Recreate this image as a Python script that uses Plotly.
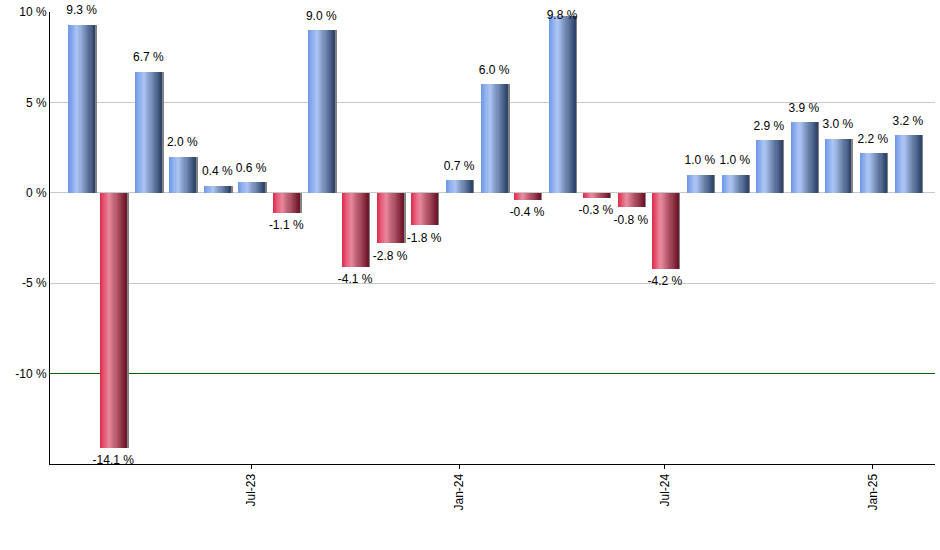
import plotly.graph_objects as go

# monthly returns, Feb-23 .. Feb-25
months = ["2023-02-01", "2023-03-01", "2023-04-01", "2023-05-01", "2023-06-01",
          "2023-07-01", "2023-08-01", "2023-09-01", "2023-10-01", "2023-11-01",
          "2023-12-01", "2024-01-01", "2024-02-01", "2024-03-01", "2024-04-01",
          "2024-05-01", "2024-06-01", "2024-07-01", "2024-08-01", "2024-09-01",
          "2024-10-01", "2024-11-01", "2024-12-01", "2025-01-01", "2025-02-01"]
returns = [9.3, -14.1, 6.7, 2.0, 0.4, 0.6, -1.1, 9.0, -4.1, -2.8, -1.8, 0.7, 6.0,
           -0.4, 9.8, -0.3, -0.8, -4.2, 1.0, 1.0, 2.9, 3.9, 3.0, 2.2, 3.2]

tick_dates = ["2023-07-01", "2024-01-01", "2024-07-01", "2025-01-01"]
tick_labels = ["Jul-23", "Jan-24", "Jul-24", "Jan-25"]
y_ticks = [-10, -5, 0, 5, 10]
y_labels = ["-10 %", "-5 %", "0 %", "5 %", "10 %"]
y_max, y_min = 10, -15

DAY = 86400000
bar_w = 23.5 * DAY
n_slices = 24

# horizontal gradient stops (position, rgb)
blue_stops = [(0.0, (108, 150, 230)), (0.33, (174, 198, 244)), (1.0, (44, 66, 104))]
red_stops = [(0.0, (222, 38, 74)), (0.33, (234, 138, 158)), (1.0, (108, 20, 40))]


def grad(stops, t):
    for (t0, c0), (t1, c1) in zip(stops, stops[1:]):
        if t0 <= t <= t1:
            f = (t - t0) / (t1 - t0)
            c = [round(a + (b - a) * f) for a, b in zip(c0, c1)]
            return "rgb(%d,%d,%d)" % tuple(c)
    return "rgb(%d,%d,%d)" % stops[-1][1]


fig = go.Figure()

# shadow on the right of each bar
fig.add_trace(go.Bar(x=months, y=returns, width=bar_w, offset=-bar_w / 2 + 1.8 * DAY,
                     marker=dict(color="rgb(130,130,130)", line_width=0),
                     hoverinfo="skip", showlegend=False))

# gradient: each slice runs to the right edge, the next one covers it
sw = bar_w / n_slices
for i in range(n_slices):
    t = (i + 0.5) / n_slices
    cols = [grad(blue_stops if v >= 0 else red_stops, t) for v in returns]
    fig.add_trace(go.Bar(x=months, y=returns, width=bar_w - i * sw, offset=-bar_w / 2 + i * sw,
                         marker=dict(color=cols, line_width=0),
                         hoverinfo="skip", showlegend=False))


def label_pos(v):
    if v < 0:
        return "bottom center"
    # no room above the bar -> put it on the bar top
    return "middle center" if v > y_max - 0.6 else "top center"


# transparent markers just to push the labels away from the bar ends
fig.add_trace(go.Scatter(
    x=months, y=returns, mode="markers+text",
    marker=dict(size=10, color="rgba(0,0,0,0)"),
    text=["%.1f %%" % v for v in returns],
    textposition=[label_pos(v) for v in returns],
    textfont=dict(size=12, color="black", family="Liberation Sans"),
    cliponaxis=False, showlegend=False, hoverinfo="skip"))

# invisible trace so the overlay axis (green -10 % line) gets drawn
fig.add_trace(go.Scatter(x=months, y=returns, yaxis="y2", mode="none",
                         showlegend=False, hoverinfo="skip"))

fig.update_layout(
    width=940, height=550,
    margin=dict(l=50, r=5, t=10, b=86),
    barmode="overlay", bargap=0,
    plot_bgcolor="white", paper_bgcolor="white",
    font=dict(family="Liberation Sans", size=12, color="black"),
    showlegend=False,
    yaxis=dict(range=[y_min, y_max], tickvals=y_ticks, ticktext=y_labels,
               showgrid=True, gridcolor="rgb(200,200,200)", zeroline=False,
               showline=True, linecolor="black", linewidth=1, ticks=""),
    yaxis2=dict(overlaying="y", range=[y_min, y_max], tickvals=[-10],
                showticklabels=False, showgrid=True, gridcolor="rgb(0,100,0)",
                zeroline=False, showline=False, ticks=""),
)
fig.update_xaxes(type="date", range=["2023-01-04", "2025-02-25"],
                 tickvals=tick_dates, ticktext=tick_labels, tickangle=-90,
                 showgrid=False, showline=True, linecolor="black", linewidth=1,
                 ticks="outside", ticklen=4, tickcolor="black")

fig.write_html("out.html", config={"displayModeBar": False},
               post_script="document.body.style.margin='0px';")
